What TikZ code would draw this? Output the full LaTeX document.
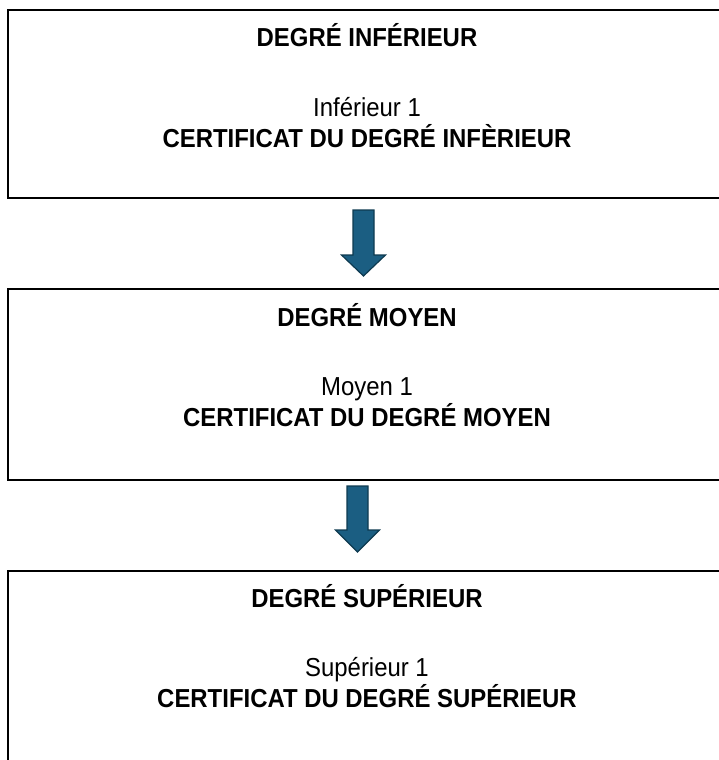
\documentclass[tikz,border=0pt]{standalone}
\usepackage{fontspec}
\setmainfont{Liberation Sans}[FakeStretch=0.92]
\usepackage{tikz}
\usetikzlibrary{positioning,calc}

\definecolor{arrowblue}{HTML}{1B5E82}
\definecolor{arrowdark}{HTML}{0E3A50}

\tikzset{
    degbox/.style={draw=black, line width=2pt, minimum width=718pt, inner sep=0pt},
    titletext/.style={anchor=base, font=\fontsize{26}{30}\selectfont\bfseries},
    leveltext/.style={anchor=base, font=\fontsize{26}{30}\selectfont},
    certtext/.style={anchor=base, font=\fontsize{26}{30}\selectfont\bfseries},
    blockarrow/.style={fill=arrowblue, draw=arrowdark, line width=1.2pt, line join=miter}
}

\begin{document}
\begin{tikzpicture}[x=1pt, y=1pt]
    \useasboundingbox (0,0) rectangle (719,-760);

    % Degré inférieur (top box)
    \node[degbox, minimum height=188pt] (inf) at (367,-104) {};
    \node[titletext] (inftitle) at ($(inf.north)+(0,-38)$) {DEGRÉ INFÉRIEUR};
    \node[leveltext] (inflevel) at ($(inf.north)+(0,-107)$) {Inférieur 1};
    \node[certtext] (infcert) at ($(inf.north)+(0,-138)$) {CERTIFICAT DU DEGRÉ INFÈRIEUR};

    % Degré moyen (middle box)
    \node[degbox, minimum height=191pt] (moy) at (367,-384.5) {};
    \node[titletext] (moytitle) at ($(moy.north)+(0,-38)$) {DEGRÉ MOYEN};
    \node[leveltext] (moylevel) at ($(moy.north)+(0,-107)$) {Moyen 1};
    \node[certtext] (moycert) at ($(moy.north)+(0,-138)$) {CERTIFICAT DU DEGRÉ MOYEN};

    % Degré supérieur (bottom box, runs past the page)
    \node[degbox, minimum height=200pt] (sup) at (367,-671) {};
    \node[titletext] (suptitle) at ($(sup.north)+(0,-37)$) {DEGRÉ SUPÉRIEUR};
    \node[leveltext] (suplevel) at ($(sup.north)+(0,-106)$) {Supérieur 1};
    \node[certtext] (supcert) at ($(sup.north)+(0,-137)$) {CERTIFICAT DU DEGRÉ SUPÉRIEUR};

    % Block arrow from inférieur to moyen
    \coordinate (a1top) at ($(inf.south)+(-3.5,-11)$);
    \coordinate (a1tip) at ($(moy.north)+(-3.5,12)$);
    \draw[blockarrow] ($(a1top)+(-10.5,0)$) -- ($(a1top)+(10.5,0)$)
        -- ($(a1tip)+(10.5,21)$) -- ($(a1tip)+(22,21)$) -- (a1tip)
        -- ($(a1tip)+(-22,21)$) -- ($(a1tip)+(-10.5,21)$) -- cycle;

    % Block arrow from moyen to supérieur
    \coordinate (a2top) at ($(moy.south)+(-9.5,-5)$);
    \coordinate (a2tip) at ($(sup.north)+(-9.5,18)$);
    \draw[blockarrow] ($(a2top)+(-10.5,0)$) -- ($(a2top)+(10.5,0)$)
        -- ($(a2tip)+(10.5,22)$) -- ($(a2tip)+(22,22)$) -- (a2tip)
        -- ($(a2tip)+(-22,22)$) -- ($(a2tip)+(-10.5,22)$) -- cycle;
\end{tikzpicture}
\end{document}
